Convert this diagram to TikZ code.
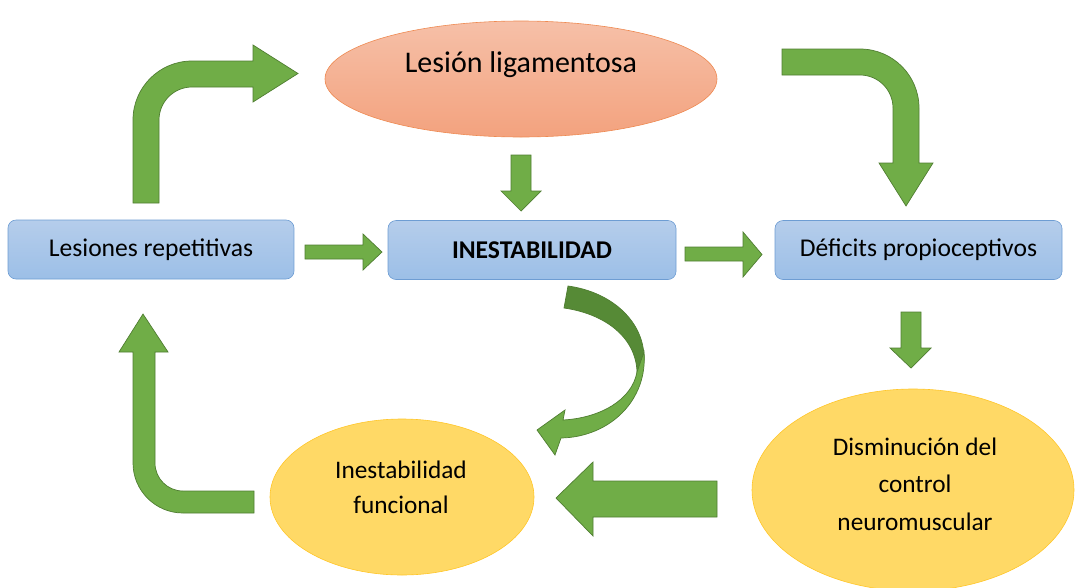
\documentclass[tikz,border=0pt]{standalone}
\usepackage{fontspec}
\setmainfont{Carlito}
\usetikzlibrary{shapes.geometric}
\definecolor{boxtop}{HTML}{B5CDEB}
\definecolor{boxbot}{HTML}{9CBFE7}
\definecolor{boxedge}{HTML}{6E9DD3}
\definecolor{saltop}{HTML}{F6C0A8}
\definecolor{salbot}{HTML}{F3A27E}
\definecolor{saledge}{HTML}{EE8A52}
\definecolor{yel}{HTML}{FFD966}
\definecolor{yeledge}{HTML}{FFC629}
\definecolor{agreen}{HTML}{70AD47}
\definecolor{adark}{HTML}{568A36}
\definecolor{aedge}{HTML}{4F7D31}
\tikzset{
  stepbox/.style={draw=boxedge, line width=0.6pt, rounded corners=8pt, top color=boxtop, bottom color=boxbot,
    minimum height=59pt, minimum width=287pt, inner sep=0pt, font=\fontsize{25.6}{30}\selectfont},
  yellipse/.style={ellipse, draw=yeledge, line width=0.6pt, fill=yel, inner sep=0pt, align=center,
    font=\fontsize{25}{36}\selectfont},
  blockarrow/.style={fill=agreen, draw=aedge, line width=0.7pt, line join=miter},
  darkarrow/.style={fill=adark, draw=aedge, line width=0.7pt, line join=miter}
}
\begin{document}
\begin{tikzpicture}[x=1pt, y=-1pt]
\useasboundingbox (0,0) rectangle (1076,587);
% nodes
\node[ellipse, draw=saledge, line width=0.6pt, top color=saltop, bottom color=salbot,
  minimum width=392pt, minimum height=116pt, inner sep=0pt] (lig) at (521,79) {};
\node[font=\fontsize{30}{34}\selectfont, inner sep=0pt] (ligtxt) at (521,65) {Lesión ligamentosa};
\node[stepbox, minimum width=286pt] (rep) at (151,249.5) {Lesiones repetitivas};
\node[stepbox, minimum width=288pt, font=\fontsize{25.6}{30}\selectfont\bfseries] (ines) at (532,250) {INESTABILIDAD};
\node[stepbox] (def) at (918.5,250) {Déficits propioceptivos};
\node[yellipse, minimum width=322pt, minimum height=202pt] (dis) at (913,490) {};
\node[font=\fontsize{25.3}{37.5}\selectfont, align=center, inner sep=0pt] (distxt) at (915,484) {Disminución del\\control\\neuromuscular};
\node[yellipse, minimum width=264pt, minimum height=156pt] (fun) at (402,497) {};
\node[font=\fontsize{25.3}{35}\selectfont, align=center, inner sep=0pt] (funtxt) at (401,487) {Inestabilidad\\funcional};

% straight block arrows
\draw[blockarrow] (305,245) -- (363,245) -- (363,234) -- (382,252) -- (363,270) -- (363,259) -- (305,259) -- cycle;
\draw[blockarrow] (685,247) -- (743,247) -- (743,232) -- (762,254.5) -- (743,277) -- (743,261) -- (685,261) -- cycle;
\draw[blockarrow] (511,155) -- (531,155) -- (531,191) -- (541,191) -- (521,211) -- (501,191) -- (511,191) -- cycle;
\draw[blockarrow] (901,312) -- (921,312) -- (921,348) -- (931,348) -- (911,368) -- (890,348) -- (901,348) -- cycle;
\draw[blockarrow] (717,481) -- (593,481) -- (593,462) -- (556,498) -- (593,536) -- (593,517) -- (717,517) -- cycle;

% bent arrow top-left
\draw[blockarrow] (133,203) -- (133,120) .. controls (133,87.4) and (159.4,61) .. (192,61)
  -- (253,61) -- (253,45) -- (298,73.5) -- (253,102) -- (253,87) -- (192,87)
  .. controls (173.8,87) and (159,101.8) .. (159,120) -- (159,203) -- cycle;
% bent arrow top-right
\draw[blockarrow] (782,49) -- (860,49) .. controls (892.6,49) and (919,75.4) .. (919,108)
  -- (919,163) -- (933,163) -- (906,206) -- (879,163) -- (893,163) -- (893,108)
  .. controls (893,89.8) and (878.2,75) .. (860,75) -- (782,75) -- cycle;
% bent arrow bottom-left
\draw[blockarrow] (143,314) -- (168,352) -- (155,352) -- (155,463)
  .. controls (155,478.5) and (167.5,491) .. (183,491) -- (254,491) -- (254,513) -- (183,513)
  .. controls (155.4,513) and (133,490.6) .. (133,463) -- (133,352) -- (119,352) -- cycle;

% curved arrow
\draw[darkarrow] (568,286) .. controls (612,292) and (645,322) .. (644,360) -- (637,372)
  .. controls (636,338) and (606,314) .. (564,308) -- cycle;
\draw[blockarrow] (644,352) .. controls (648,400) and (610,437) .. (561,438) -- (555,455) -- (537,430)
  -- (565,410) -- (563,420) .. controls (600,418) and (632,400) .. (637,372) -- cycle;
\end{tikzpicture}
\end{document}
